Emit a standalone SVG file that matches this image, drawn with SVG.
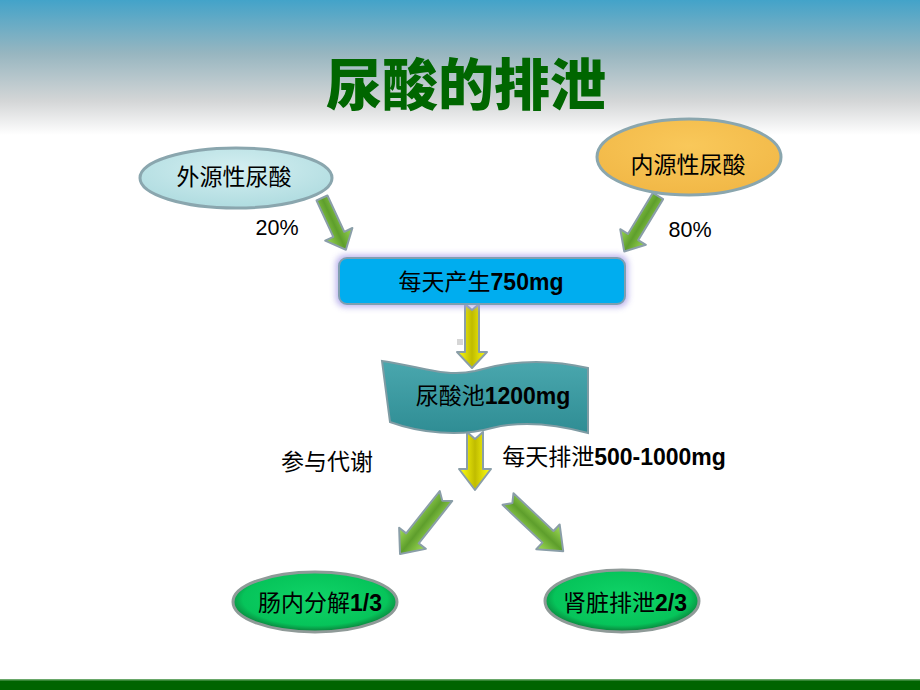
<svg xmlns="http://www.w3.org/2000/svg" width="920" height="690" viewBox="0 0 920 690">
<defs>
<linearGradient id="hdr" x1="0" y1="0" x2="0" y2="135" gradientUnits="userSpaceOnUse">
<stop offset="0" stop-color="#43a3c9"/>
<stop offset="0.4" stop-color="#98b6c0"/>
<stop offset="0.75" stop-color="#d4d6d7"/>
<stop offset="1" stop-color="#ffffff"/>
</linearGradient>
<linearGradient id="gArrow" x1="-17" y1="0" x2="17" y2="0" gradientUnits="userSpaceOnUse">
<stop offset="0" stop-color="#a4e05a"/>
<stop offset="0.5" stop-color="#5e9e2c"/>
<stop offset="1" stop-color="#a4e05a"/>
</linearGradient>
<linearGradient id="yArrow" x1="-15" y1="0" x2="15" y2="0" gradientUnits="userSpaceOnUse">
<stop offset="0" stop-color="#ffff10"/>
<stop offset="0.5" stop-color="#c0bc00"/>
<stop offset="1" stop-color="#ffff10"/>
</linearGradient>
<radialGradient id="blueEll" cx="0.5" cy="0.35" r="0.6">
<stop offset="0" stop-color="#d4eff1"/>
<stop offset="1" stop-color="#b2dde1"/>
</radialGradient>
<radialGradient id="orgEll" cx="0.5" cy="0.35" r="0.6">
<stop offset="0" stop-color="#f9c85a"/>
<stop offset="1" stop-color="#f2b948"/>
</radialGradient>
<radialGradient id="grnEll" cx="0.5" cy="0.45" r="0.55">
<stop offset="0" stop-color="#10d468"/>
<stop offset="0.8" stop-color="#06c45a"/>
<stop offset="1" stop-color="#0b7a38"/>
</radialGradient>
<linearGradient id="banner" x1="0" y1="0" x2="0" y2="1">
<stop offset="0" stop-color="#4aa7ae"/>
<stop offset="1" stop-color="#2f8d94"/>
</linearGradient>
<filter id="glow" x="-10%" y="-30%" width="120%" height="160%">
<feGaussianBlur stdDeviation="3"/>
</filter>
<style>
.cjk{font-family:"Noto Sans CJK SC","Noto Sans",sans-serif;font-size:23px;fill:#000}
.num{font-family:"Liberation Sans",Arial,sans-serif;font-weight:bold}
.pct{font-family:"Liberation Sans",Arial,sans-serif;font-size:21.5px;fill:#000}
.ga{fill:url(#gArrow);stroke:#8a9ea8;stroke-width:2;stroke-linejoin:round}
.ya{fill:url(#yArrow);stroke:#8a9ea8;stroke-width:2;stroke-linejoin:round}
.ell{stroke:#8aa6ae;stroke-width:3}
</style>
</defs>
<rect width="920" height="690" fill="#ffffff"/>
<rect width="920" height="136" fill="url(#hdr)"/>
<rect x="0" y="680" width="920" height="10" fill="#006400"/>
<rect x="0" y="679" width="920" height="1.5" fill="#6aa86a"/>
<text x="466" y="105" text-anchor="middle" font-family="'Noto Sans CJK SC',sans-serif" font-weight="900" font-size="56" fill="#006600">尿酸的排泄</text>

<g id="connectors">
<path class="ga" transform="translate(322,198) rotate(-24.8)" d="M-6 0 L6 0 L6 40 L15 40 L0 57 L-15 40 L-6 40 Z"/>
<path class="ga" transform="translate(658,196) rotate(31.3)" d="M-6 0 L6 0 L6 48 L15 48 L0 65 L-15 48 L-6 48 Z"/>
<path class="ya" transform="translate(472,304)" d="M-7 0 L0 6 L7 0 L7 48 L15 48 L0 64 L-15 48 L-7 48 Z"/>
<path class="ya" transform="translate(475,432)" d="M-8 0 L0 7 L8 0 L8 37 L16 37 L0 58 L-16 37 L-8 37 Z"/>
<path class="ga" transform="translate(446,496) rotate(38.4)" d="M-8 0 L0 6 L8 0 L8 54 L17 54 L0 74 L-17 54 L-8 54 Z"/>
<path class="ga" transform="translate(508,499) rotate(-46.6)" d="M-8 0 L0 6 L8 0 L8 55 L17 55 L0 76 L-17 55 L-8 55 Z"/>
<rect x="457" y="339" width="6" height="6" fill="#d6d6d6"/>
</g>

<g id="exo">
<ellipse class="ell" cx="236" cy="178" rx="96" ry="30" fill="url(#blueEll)"/>
<text class="cjk" x="234" y="185" text-anchor="middle">外源性尿酸</text>
</g>
<g id="endo">
<ellipse class="ell" cx="689" cy="157" rx="92" ry="38" fill="url(#orgEll)"/>
<text class="cjk" x="688" y="173" text-anchor="middle">内源性尿酸</text>
</g>
<text class="pct" x="277" y="235" text-anchor="middle">20%</text>
<text class="pct" x="690" y="237" text-anchor="middle">80%</text>

<g id="daily">
<rect x="336" y="255" width="292" height="52" rx="9" fill="#a89ee8" opacity="0.8" filter="url(#glow)"/>
<rect x="339" y="258" width="286" height="46" rx="8" fill="#00adef" stroke="#7f9fb0" stroke-width="2"/>
<text class="cjk" x="481" y="290" text-anchor="middle">每天产生<tspan class="num">750mg</tspan></text>
</g>

<g id="pool">
<path d="M382 361 C420 366, 445 378, 475 371 C505 362, 545 358, 588 368 L588 433 C555 424, 520 421, 492 428 C460 437, 420 433, 390 422 Z" fill="url(#banner)" stroke="#7f9ca4" stroke-width="2"/>
<text class="cjk" x="493" y="404" text-anchor="middle">尿酸池<tspan class="num">1200mg</tspan></text>
</g>

<text class="cjk" x="327" y="470" text-anchor="middle">参与代谢</text>
<text class="cjk" x="614" y="465" text-anchor="middle">每天排泄<tspan class="num">500-1000mg</tspan></text>

<g id="gut">
<ellipse cx="315" cy="602" rx="82" ry="30" fill="url(#grnEll)" stroke="#8f9a98" stroke-width="3"/>
<text class="cjk" x="320" y="611" text-anchor="middle">肠内分解<tspan class="num">1/3</tspan></text>
</g>
<g id="kidney">
<ellipse cx="622" cy="601" rx="77" ry="31" fill="url(#grnEll)" stroke="#8f9a98" stroke-width="3"/>
<text class="cjk" x="625" y="611" text-anchor="middle">肾脏排泄<tspan class="num">2/3</tspan></text>
</g>
</svg>
